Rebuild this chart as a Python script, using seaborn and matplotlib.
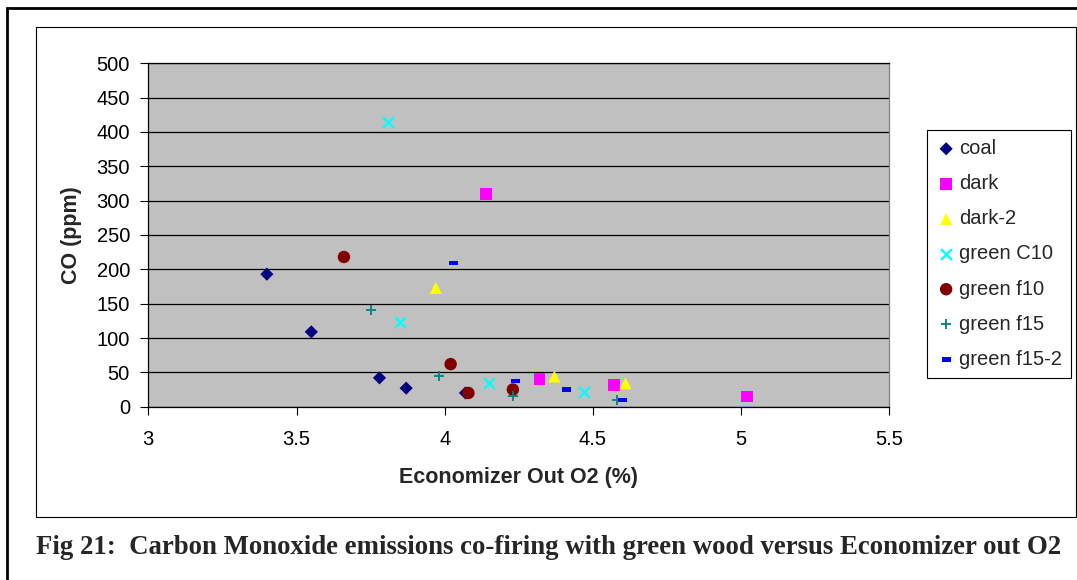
import matplotlib
matplotlib.use("Agg")
import matplotlib.pyplot as plt
import seaborn as sns
import pandas as pd
from matplotlib.patches import Rectangle

# Economizer out O2 (%) and CO (ppm) for each firing condition
coal_o2 = [3.40, 3.55, 3.78, 3.87, 4.07]
coal_co = [193, 109, 42, 27, 20]
dark_o2 = [4.14, 4.32, 4.57, 5.02]
dark_co = [310, 40, 32, 15]
dark2_o2 = [3.97, 4.37, 4.61]
dark2_co = [173, 44, 34]
c10_o2 = [3.81, 3.85, 4.15, 4.47]
c10_co = [414, 124, 35, 22]
f10_o2 = [3.66, 4.02, 4.08, 4.23]
f10_co = [218, 62, 20, 25]
f15_o2 = [3.75, 3.98, 4.23, 4.58]
f15_co = [141, 44, 15, 10]
f152_o2 = [4.03, 4.24, 4.41, 4.60]
f152_co = [209, 37, 25, 10]

series_names = ["coal", "dark", "dark-2", "green C10", "green f10", "green f15", "green f15-2"]
x_ticks = [3, 3.5, 4, 4.5, 5, 5.5]
x_tick_labels = ["3", "3.5", "4", "4.5", "5", "5.5"]
y_ticks = [0, 50, 100, 150, 200, 250, 300, 350, 400, 450, 500]
y_tick_labels = [str(v) for v in y_ticks]

sns.set_style("white")
plt.rcParams["font.family"] = ["Liberation Sans", "DejaVu Sans"]

W, H = 1077, 580
fig = plt.figure(figsize=(W / 100, H / 100), dpi=100)
fig.patch.set_facecolor("white")

def fx(px):
    return px / W

def fy(py):
    return 1 - py / H

# page frame (runs off the right and bottom edges) and chart box
fig.add_artist(Rectangle((fx(6.5), fy(640)), fx(1200), (640 - 7.5) / H, transform=fig.transFigure,
                         fill=False, edgecolor="black", linewidth=2.0, clip_on=False))
fig.add_artist(Rectangle((fx(35.7), fy(517.3)), fx(1076 - 35.7), (517.3 - 27) / H,
                         transform=fig.transFigure, fill=False, edgecolor="black", linewidth=0.8))

L, R, T, B = 148.3, 889.3, 63.3, 406.7
ax = fig.add_axes([fx(L), fy(B), fx(R - L), (B - T) / H])
ax.set_facecolor("#C0C0C0")

dash = [(-1, -0.5), (1, -0.5), (1, 0.5), (-1, 0.5), (-1, -0.5)]
styles = [
    (coal_o2, coal_co, "#000080", "D", 45, 0),
    (dark_o2, dark_co, "#FF00FF", "s", 72, 0),
    (dark2_o2, dark2_co, "#FFFF00", "^", 75, 0),
    (c10_o2, c10_co, "#00FFFF", "x", 60, 1.7),
    (f10_o2, f10_co, "#800000", "o", 80, 0),
    (f15_o2, f15_co, "#008080", "+", 60, 1.3),
    (f152_o2, f152_co, "#0000FF", dash, 40, 0),
]

for name, (xs, ys, color, marker, size, lw) in zip(series_names, styles):
    df = pd.DataFrame({"o2": xs, "co": ys})
    if marker in ("x", "+"):
        sns.scatterplot(data=df, x="o2", y="co", ax=ax, color=color, marker=marker,
                        s=size, linewidth=lw, label=name, zorder=3)
    else:
        sns.scatterplot(data=df, x="o2", y="co", ax=ax, color=color, marker=marker,
                        s=size, linewidth=0, edgecolor="none", label=name, zorder=3)

if ax.get_legend() is not None:
    ax.get_legend().remove()

ax.set_xlim(3, 5.5)
ax.set_ylim(0, 500)
ax.set_xticks(x_ticks)
ax.set_xticklabels(x_tick_labels)
ax.set_yticks(y_ticks)
ax.set_yticklabels(y_tick_labels)
ax.yaxis.grid(True, color="black", linewidth=0.9)
ax.xaxis.grid(False)
ax.set_axisbelow(True)

for side in ["left", "bottom", "top"]:
    ax.spines[side].set_color("black")
    ax.spines[side].set_linewidth(0.9)
ax.spines["right"].set_color("#808080")
ax.spines["right"].set_linewidth(0.9)

ax.tick_params(axis="both", direction="out", length=5.5, width=0.8, color="black",
               labelsize=14.5, labelcolor="black")
ax.tick_params(axis="y", pad=7.7, left=True)
ax.tick_params(axis="x", pad=11, bottom=True)

ax.set_xlabel("Economizer Out O2 (%)", fontsize=15.5, fontweight="bold")
ax.xaxis.label.set_verticalalignment("center")
ax.xaxis.set_label_coords(0.5, (B - 478) / (B - T))
ax.set_ylabel("CO (ppm)", fontsize=15.5, fontweight="bold")
ax.yaxis.label.set_rotation_mode("default")
ax.yaxis.label.set_horizontalalignment("center")
ax.yaxis.label.set_verticalalignment("center")
ax.yaxis.set_label_coords((71.7 - L) / (R - L), 0.5)

handles, labels = ax.get_legend_handles_labels()
leg = fig.legend(handles, labels, loc="upper left", bbox_to_anchor=(fx(927), fy(130)),
                 bbox_transform=fig.transFigure, frameon=True, fancybox=False,
                 edgecolor="black", framealpha=1, fontsize=14.5, borderpad=0.45,
                 handlelength=1.0, handletextpad=0.15, labelspacing=0.8, borderaxespad=0)
leg.get_frame().set_linewidth(0.8)

fig.text(fx(36), fy(548), "Fig 21:  Carbon Monoxide emissions co-firing with green wood versus Economizer out O2",
         family="Liberation Serif", fontweight="bold", fontsize=19.3, va="center", ha="left")

fig.savefig("out.png", dpi=100)
